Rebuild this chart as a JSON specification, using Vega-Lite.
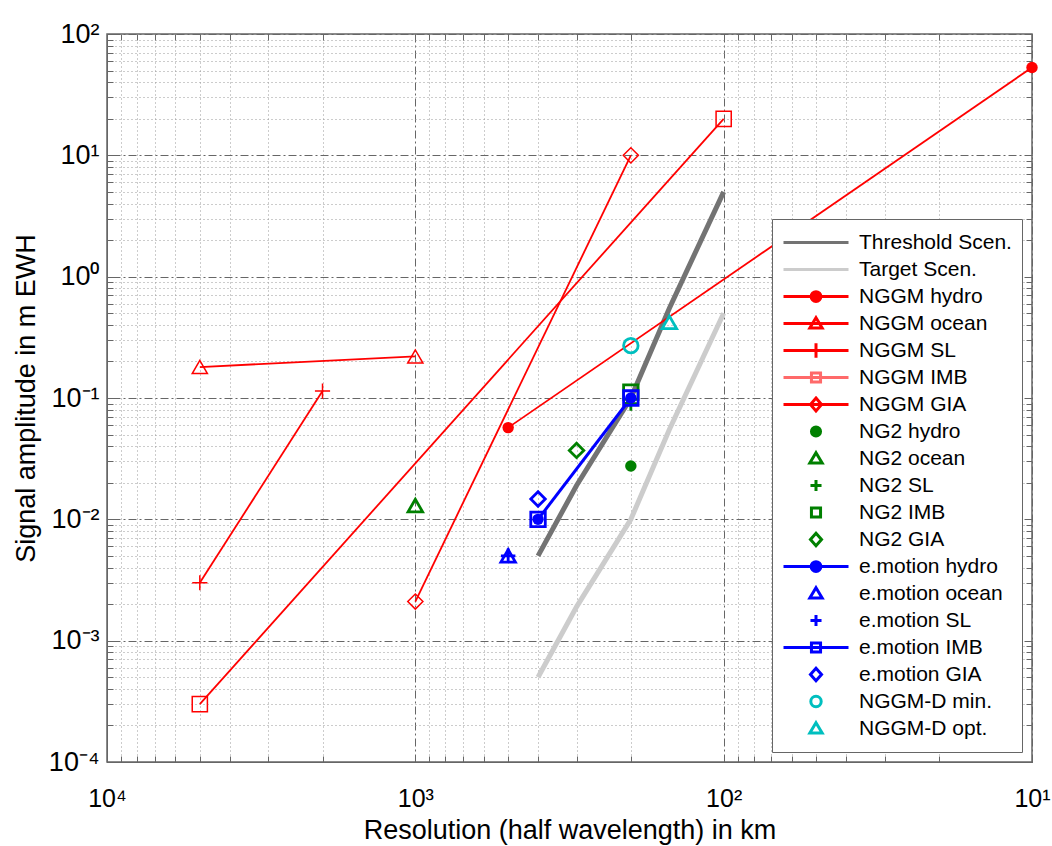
{
  "$schema": "https://vega.github.io/schema/vega-lite/v6.json",
  "width": 925,
  "height": 728,
  "autosize": {"type": "none"},
  "padding": {"left": 107, "top": 34, "right": 20, "bottom": 84},
  "background": "white",
  "config": {
    "view": {"stroke": "#666", "strokeWidth": 1.5},
    "font": "Liberation Sans"
  },
  "data": {"values": [
    {"series": "Threshold Scen.", "res": 400, "amp": 0.005},
    {"series": "Threshold Scen.", "res": 300, "amp": 0.019},
    {"series": "Threshold Scen.", "res": 200, "amp": 0.1},
    {"series": "Threshold Scen.", "res": 150, "amp": 0.55},
    {"series": "Threshold Scen.", "res": 100, "amp": 5},
    {"series": "Target Scen.", "res": 400, "amp": 0.0005},
    {"series": "Target Scen.", "res": 300, "amp": 0.0019},
    {"series": "Target Scen.", "res": 200, "amp": 0.01},
    {"series": "Target Scen.", "res": 150, "amp": 0.055},
    {"series": "Target Scen.", "res": 100, "amp": 0.5},
    {"series": "NGGM hydro", "res": 500, "amp": 0.057},
    {"series": "NGGM hydro", "res": 10, "amp": 53},
    {"series": "NGGM ocean", "res": 5000, "amp": 0.18},
    {"series": "NGGM ocean", "res": 1000, "amp": 0.22},
    {"series": "NGGM SL", "res": 5000, "amp": 0.003},
    {"series": "NGGM SL", "res": 2000, "amp": 0.114},
    {"series": "NGGM IMB", "res": 5000, "amp": 0.0003},
    {"series": "NGGM IMB", "res": 100, "amp": 20},
    {"series": "NGGM GIA", "res": 1000, "amp": 0.0021},
    {"series": "NGGM GIA", "res": 200, "amp": 10},
    {"series": "NG2 hydro", "res": 200, "amp": 0.0275},
    {"series": "NG2 ocean", "res": 1000, "amp": 0.013},
    {"series": "NG2 SL", "res": 200, "amp": 0.09},
    {"series": "NG2 IMB", "res": 200, "amp": 0.112},
    {"series": "NG2 GIA", "res": 300, "amp": 0.037},
    {"series": "e.motion hydro", "res": 400, "amp": 0.01},
    {"series": "e.motion hydro", "res": 200, "amp": 0.1},
    {"series": "e.motion ocean", "res": 500, "amp": 0.005},
    {"series": "e.motion SL", "res": 500, "amp": 0.005},
    {"series": "e.motion IMB", "res": 400, "amp": 0.01},
    {"series": "e.motion IMB", "res": 200, "amp": 0.1},
    {"series": "e.motion GIA", "res": 400, "amp": 0.0147},
    {"series": "NGGM-D min.", "res": 200, "amp": 0.27},
    {"series": "NGGM-D opt.", "res": 150, "amp": 0.42}
  ]},
  "layer": [
    {
      "transform": [{"filter": {"field": "series", "oneOf": ["Threshold Scen.", "Target Scen."]}}],
      "mark": {"type": "line", "strokeWidth": 5, "strokeCap": "butt"},
      "encoding": {
        "x": {"field": "res", "type": "quantitative", "title": "Resolution (half wavelength) in km",
          "scale": {"type": "log", "domain": [10, 10000], "reverse": true, "nice": false},
          "axis": {
            "values": [10,20,30,40,50,60,70,80,90,100,200,300,400,500,600,700,800,900,1000,2000,3000,4000,5000,6000,7000,8000,9000,10000],
            "labelExpr": "datum.value == 10 ? '10¹' : datum.value == 100 ? '10²' : datum.value == 1000 ? '10³' : datum.value == 10000 ? '10⁴' : ''",
            "labelFontSize": 25, "labelColor": "#000", "labelPadding": 30, "labelFlush": false, "labelOverlap": false,
            "grid": true,
            "gridDash": {"condition": {"test": "abs(log(datum.value)/LN10 - round(log(datum.value)/LN10)) < 0.01", "value": [8, 3, 2, 3]}, "value": [1, 3]},
            "gridColor": {"condition": {"test": "abs(log(datum.value)/LN10 - round(log(datum.value)/LN10)) < 0.01", "value": "#666"}, "value": "#999"},
            "gridWidth": 1,
            "tickSize": -6, "tickColor": "#666", "domainColor": "#666",
            "titleFontSize": 27, "titleFontWeight": "normal", "titleColor": "#000", "titlePadding": 6
          }
        },
        "y": {"field": "amp", "type": "quantitative", "title": "Signal amplitude in m EWH",
          "scale": {"type": "log", "domain": [0.0001, 100], "nice": false},
          "axis": {
            "values": [0.0001,0.0002,0.0003,0.0004,0.0005,0.0006,0.0007,0.0008,0.0009,0.001,0.002,0.003,0.004,0.005,0.006,0.007,0.008,0.009,0.01,0.02,0.03,0.04,0.05,0.06,0.07,0.08,0.09,0.1,0.2,0.3,0.4,0.5,0.6,0.7,0.8,0.9,1,2,3,4,5,6,7,8,9,10,20,30,40,50,60,70,80,90,100],
            "labelExpr": "datum.value == 0.0001 ? '10⁻⁴' : datum.value == 0.001 ? '10⁻³' : datum.value == 0.01 ? '10⁻²' : datum.value == 0.1 ? '10⁻¹' : datum.value == 1 ? '10⁰' : datum.value == 10 ? '10¹' : datum.value == 100 ? '10²' : ''",
            "labelFontSize": 27, "labelColor": "#000", "labelPadding": 14, "labelFlush": false, "labelOverlap": false,
            "grid": true,
            "gridDash": {"condition": {"test": "abs(log(datum.value)/LN10 - round(log(datum.value)/LN10)) < 0.01", "value": [8, 3, 2, 3]}, "value": [1, 3]},
            "gridColor": {"condition": {"test": "abs(log(datum.value)/LN10 - round(log(datum.value)/LN10)) < 0.01", "value": "#666"}, "value": "#999"},
            "gridWidth": 1,
            "tickSize": -6, "tickColor": "#666", "domainColor": "#666",
            "titleFontSize": 27, "titleFontWeight": "normal", "titleColor": "#000", "titlePadding": 8
          }
        },
        "color": {"field": "series", "type": "nominal", "legend": null,
          "scale": {"domain": ["Threshold Scen.","Target Scen.","NGGM hydro","NGGM ocean","NGGM SL","NGGM IMB","NGGM GIA","NG2 hydro","NG2 ocean","NG2 SL","NG2 IMB","NG2 GIA","e.motion hydro","e.motion ocean","e.motion SL","e.motion IMB","e.motion GIA","NGGM-D min.","NGGM-D opt."],
                    "range": ["#737373","#cccccc","#ff0000","#ff0000","#ff0000","#ff0000","#ff0000","#008000","#008000","#008000","#008000","#008000","#0000ff","#0000ff","#0000ff","#0000ff","#0000ff","#00bfbf","#00bfbf"]}}
      }
    },
    {
      "transform": [{"filter": {"field": "series", "oneOf": ["NGGM hydro","NGGM ocean","NGGM SL","NGGM IMB","NGGM GIA"]}}],
      "mark": {"type": "line", "strokeWidth": 1.8},
      "encoding": {
        "x": {"field": "res", "type": "quantitative", "scale": {"type": "log", "domain": [10, 10000], "reverse": true, "nice": false}, "axis": null},
        "y": {"field": "amp", "type": "quantitative", "scale": {"type": "log", "domain": [0.0001, 100], "nice": false}, "axis": null},
        "color": {"field": "series", "type": "nominal", "legend": null,
          "scale": {"domain": ["Threshold Scen.","Target Scen.","NGGM hydro","NGGM ocean","NGGM SL","NGGM IMB","NGGM GIA","NG2 hydro","NG2 ocean","NG2 SL","NG2 IMB","NG2 GIA","e.motion hydro","e.motion ocean","e.motion SL","e.motion IMB","e.motion GIA","NGGM-D min.","NGGM-D opt."],
                    "range": ["#737373","#cccccc","#ff0000","#ff0000","#ff0000","#ff0000","#ff0000","#008000","#008000","#008000","#008000","#008000","#0000ff","#0000ff","#0000ff","#0000ff","#0000ff","#00bfbf","#00bfbf"]}}
      }
    },
    {
      "transform": [{"filter": {"field": "series", "oneOf": ["e.motion IMB"]}}],
      "mark": {"type": "line", "strokeWidth": 3},
      "encoding": {
        "x": {"field": "res", "type": "quantitative", "scale": {"type": "log", "domain": [10, 10000], "reverse": true, "nice": false}, "axis": null},
        "y": {"field": "amp", "type": "quantitative", "scale": {"type": "log", "domain": [0.0001, 100], "nice": false}, "axis": null},
        "color": {"field": "series", "type": "nominal", "legend": null,
          "scale": {"domain": ["Threshold Scen.","Target Scen.","NGGM hydro","NGGM ocean","NGGM SL","NGGM IMB","NGGM GIA","NG2 hydro","NG2 ocean","NG2 SL","NG2 IMB","NG2 GIA","e.motion hydro","e.motion ocean","e.motion SL","e.motion IMB","e.motion GIA","NGGM-D min.","NGGM-D opt."],
                    "range": ["#737373","#cccccc","#ff0000","#ff0000","#ff0000","#ff0000","#ff0000","#008000","#008000","#008000","#008000","#008000","#0000ff","#0000ff","#0000ff","#0000ff","#0000ff","#00bfbf","#00bfbf"]}}
      }
    },
    {
      "transform": [{"filter": {"field": "series", "oneOf": ["NGGM ocean","NGGM SL","NGGM IMB","NGGM GIA"]}}],
      "mark": {"type": "point", "filled": false, "opacity": 1, "strokeWidth": 1.5, "size": 230},
      "encoding": {
        "x": {"field": "res", "type": "quantitative", "scale": {"type": "log", "domain": [10, 10000], "reverse": true, "nice": false}, "axis": null},
        "y": {"field": "amp", "type": "quantitative", "scale": {"type": "log", "domain": [0.0001, 100], "nice": false}, "axis": null},
        "color": {"field": "series", "type": "nominal", "legend": null,
          "scale": {"domain": ["Threshold Scen.","Target Scen.","NGGM hydro","NGGM ocean","NGGM SL","NGGM IMB","NGGM GIA","NG2 hydro","NG2 ocean","NG2 SL","NG2 IMB","NG2 GIA","e.motion hydro","e.motion ocean","e.motion SL","e.motion IMB","e.motion GIA","NGGM-D min.","NGGM-D opt."],
                    "range": ["#737373","#cccccc","#ff0000","#ff0000","#ff0000","#ff0000","#ff0000","#008000","#008000","#008000","#008000","#008000","#0000ff","#0000ff","#0000ff","#0000ff","#0000ff","#00bfbf","#00bfbf"]}},
        "shape": {"field": "series", "type": "nominal", "legend": null,
          "scale": {"domain": ["Threshold Scen.","Target Scen.","NGGM hydro","NGGM ocean","NGGM SL","NGGM IMB","NGGM GIA","NG2 hydro","NG2 ocean","NG2 SL","NG2 IMB","NG2 GIA","e.motion hydro","e.motion ocean","e.motion SL","e.motion IMB","e.motion GIA","NGGM-D min.","NGGM-D opt."],
                    "range": ["circle","circle","circle","triangle-up","M-1,0L1,0M0,-1L0,1","square","diamond","circle","triangle-up","M-1,0L1,0M0,-1L0,1","square","diamond","circle","triangle-up","M-1,0L1,0M0,-1L0,1","square","diamond","circle","triangle-up"]}}
      }
    },
    {
      "transform": [{"filter": {"field": "series", "oneOf": ["NG2 ocean","NG2 SL","NG2 IMB","NG2 GIA","e.motion ocean","e.motion SL","e.motion IMB","e.motion GIA","NGGM-D min.","NGGM-D opt."]}}],
      "mark": {"type": "point", "filled": false, "opacity": 1, "strokeWidth": 2.8, "size": 210},
      "encoding": {
        "x": {"field": "res", "type": "quantitative", "scale": {"type": "log", "domain": [10, 10000], "reverse": true, "nice": false}, "axis": null},
        "y": {"field": "amp", "type": "quantitative", "scale": {"type": "log", "domain": [0.0001, 100], "nice": false}, "axis": null},
        "color": {"field": "series", "type": "nominal", "legend": null,
          "scale": {"domain": ["Threshold Scen.","Target Scen.","NGGM hydro","NGGM ocean","NGGM SL","NGGM IMB","NGGM GIA","NG2 hydro","NG2 ocean","NG2 SL","NG2 IMB","NG2 GIA","e.motion hydro","e.motion ocean","e.motion SL","e.motion IMB","e.motion GIA","NGGM-D min.","NGGM-D opt."],
                    "range": ["#737373","#cccccc","#ff0000","#ff0000","#ff0000","#ff0000","#ff0000","#008000","#008000","#008000","#008000","#008000","#0000ff","#0000ff","#0000ff","#0000ff","#0000ff","#00bfbf","#00bfbf"]}},
        "shape": {"field": "series", "type": "nominal", "legend": null,
          "scale": {"domain": ["Threshold Scen.","Target Scen.","NGGM hydro","NGGM ocean","NGGM SL","NGGM IMB","NGGM GIA","NG2 hydro","NG2 ocean","NG2 SL","NG2 IMB","NG2 GIA","e.motion hydro","e.motion ocean","e.motion SL","e.motion IMB","e.motion GIA","NGGM-D min.","NGGM-D opt."],
                    "range": ["circle","circle","circle","triangle-up","M-1,0L1,0M0,-1L0,1","square","diamond","circle","triangle-up","M-1,0L1,0M0,-1L0,1","square","diamond","circle","triangle-up","M-1,0L1,0M0,-1L0,1","square","diamond","circle","triangle-up"]}}
      }
    },
    {
      "transform": [{"filter": {"field": "series", "oneOf": ["NGGM hydro","NG2 hydro","e.motion hydro"]}}],
      "mark": {"type": "point", "filled": true, "opacity": 1, "shape": "circle", "size": 130},
      "encoding": {
        "x": {"field": "res", "type": "quantitative", "scale": {"type": "log", "domain": [10, 10000], "reverse": true, "nice": false}, "axis": null},
        "y": {"field": "amp", "type": "quantitative", "scale": {"type": "log", "domain": [0.0001, 100], "nice": false}, "axis": null},
        "color": {"field": "series", "type": "nominal", "legend": null,
          "scale": {"domain": ["Threshold Scen.","Target Scen.","NGGM hydro","NGGM ocean","NGGM SL","NGGM IMB","NGGM GIA","NG2 hydro","NG2 ocean","NG2 SL","NG2 IMB","NG2 GIA","e.motion hydro","e.motion ocean","e.motion SL","e.motion IMB","e.motion GIA","NGGM-D min.","NGGM-D opt."],
                    "range": ["#737373","#cccccc","#ff0000","#ff0000","#ff0000","#ff0000","#ff0000","#008000","#008000","#008000","#008000","#008000","#0000ff","#0000ff","#0000ff","#0000ff","#0000ff","#00bfbf","#00bfbf"]}}
      }
    },
    {
      "transform": [{"filter": "datum.res < 0"}],
      "mark": {"type": "point", "filled": false, "opacity": 1},
      "encoding": {
        "x": {"field": "res", "type": "quantitative", "scale": {"type": "log", "domain": [10, 10000], "reverse": true, "nice": false},
          "axis": {"orient": "top", "title": null, "labels": false, "grid": false, "domain": false, "tickSize": -6, "tickColor": "#666",
            "values": [10,20,30,40,50,60,70,80,90,100,200,300,400,500,600,700,800,900,1000,2000,3000,4000,5000,6000,7000,8000,9000,10000]}},
        "y": {"field": "amp", "type": "quantitative", "scale": {"type": "log", "domain": [0.0001, 100], "nice": false},
          "axis": {"orient": "right", "title": null, "labels": false, "grid": false, "domain": false, "tickSize": -6, "tickColor": "#666",
            "values": [0.0001,0.0002,0.0003,0.0004,0.0005,0.0006,0.0007,0.0008,0.0009,0.001,0.002,0.003,0.004,0.005,0.006,0.007,0.008,0.009,0.01,0.02,0.03,0.04,0.05,0.06,0.07,0.08,0.09,0.1,0.2,0.3,0.4,0.5,0.6,0.7,0.8,0.9,1,2,3,4,5,6,7,8,9,10,20,30,40,50,60,70,80,90,100]}},
        "shape": {"field": "series", "type": "nominal",
          "scale": {"domain": ["Threshold Scen.","Target Scen.","NGGM hydro","NGGM ocean","NGGM SL","NGGM IMB","NGGM GIA","NG2 hydro","NG2 ocean","NG2 SL","NG2 IMB","NG2 GIA","e.motion hydro","e.motion ocean","e.motion SL","e.motion IMB","e.motion GIA","NGGM-D min.","NGGM-D opt."],
                    "range": [
                      "M-1,0L1,0",
                      "M-1,0L1,0",
                      "M-1,0L1,0M-0.15,0A0.15,0.15,0,1,1,0.15,0A0.15,0.15,0,1,1,-0.15,0Z",
                      "M-1,0L1,0M0,-0.18L0.19,0.14L-0.19,0.14Z",
                      "M-1,0L1,0M0,-0.22L0,0.22",
                      "M-1,0L1,0M-0.14,-0.14L0.14,-0.14L0.14,0.14L-0.14,0.14Z",
                      "M-1,0L1,0M0,-0.2L0.17,0L0,0.2L-0.17,0Z",
                      "M-0.14,0A0.14,0.14,0,1,1,0.14,0A0.14,0.14,0,1,1,-0.14,0Z",
                      "M0,-0.18L0.19,0.14L-0.19,0.14Z",
                      "M-0.17,0L0.17,0M0,-0.17L0,0.17",
                      "M-0.14,-0.14L0.14,-0.14L0.14,0.14L-0.14,0.14Z",
                      "M0,-0.19L0.17,0L0,0.19L-0.17,0Z",
                      "M-1,0L1,0M-0.15,0A0.15,0.15,0,1,1,0.15,0A0.15,0.15,0,1,1,-0.15,0Z",
                      "M0,-0.18L0.19,0.14L-0.19,0.14Z",
                      "M-0.17,0L0.17,0M0,-0.17L0,0.17",
                      "M-1,0L1,0M-0.14,-0.14L0.14,-0.14L0.14,0.14L-0.14,0.14Z",
                      "M0,-0.19L0.17,0L0,0.19L-0.17,0Z",
                      "M-0.16,0A0.16,0.16,0,1,1,0.16,0A0.16,0.16,0,1,1,-0.16,0Z",
                      "M0,-0.18L0.19,0.14L-0.19,0.14Z"
                    ]},
          "legend": {"title": null, "orient": "bottom-right", "offset": 10, "symbolSize": 4225, "clipHeight": 27, "rowPadding": 0, "padding": 10,
            "labelFont": "Liberation Sans", "labelFontSize": 21, "labelColor": "#000", "labelOffset": 9, "labelLimit": 300,
            "strokeColor": "#666", "fillColor": "white", "symbolStrokeWidth": 3, "symbolOffset": 0,
            "encode": {"symbols": {"update": {"strokeWidth": {"signal": "datum.value == 'Threshold Scen.' || datum.value == 'Target Scen.' ? 5 : (indexof(['NGGM hydro','NGGM ocean','NGGM SL','NGGM IMB','NGGM GIA'], datum.value) >= 0 ? 2 : 3)"}}}}}
        },
        "fill": {"field": "series", "type": "nominal",
          "scale": {"domain": ["Threshold Scen.","Target Scen.","NGGM hydro","NGGM ocean","NGGM SL","NGGM IMB","NGGM GIA","NG2 hydro","NG2 ocean","NG2 SL","NG2 IMB","NG2 GIA","e.motion hydro","e.motion ocean","e.motion SL","e.motion IMB","e.motion GIA","NGGM-D min.","NGGM-D opt."],
                    "range": ["transparent","transparent","#ff0000","transparent","transparent","transparent","transparent","#008000","transparent","transparent","transparent","transparent","#0000ff","transparent","transparent","transparent","transparent","transparent","transparent"]},
          "legend": {"title": null, "orient": "bottom-right", "offset": 10, "symbolSize": 4225, "clipHeight": 27, "rowPadding": 0, "padding": 10,
            "labelFont": "Liberation Sans", "labelFontSize": 21, "labelColor": "#000", "labelOffset": 9, "labelLimit": 300,
            "strokeColor": "#666", "fillColor": "white", "symbolStrokeWidth": 3, "symbolOffset": 0}
        },
        "stroke": {"field": "series", "type": "nominal",
          "scale": {"domain": ["Threshold Scen.","Target Scen.","NGGM hydro","NGGM ocean","NGGM SL","NGGM IMB","NGGM GIA","NG2 hydro","NG2 ocean","NG2 SL","NG2 IMB","NG2 GIA","e.motion hydro","e.motion ocean","e.motion SL","e.motion IMB","e.motion GIA","NGGM-D min.","NGGM-D opt."],
                    "range": ["#737373","#cccccc","#ff0000","#ff0000","#ff0000","#ff6a6a","#ff0000","#008000","#008000","#008000","#008000","#008000","#0000ff","#0000ff","#0000ff","#0000ff","#0000ff","#00bfbf","#00bfbf"]},
          "legend": {"title": null, "orient": "bottom-right", "offset": 10, "symbolSize": 4225, "clipHeight": 27, "rowPadding": 0, "padding": 10,
            "labelFont": "Liberation Sans", "labelFontSize": 21, "labelColor": "#000", "labelOffset": 9, "labelLimit": 300,
            "strokeColor": "#666", "fillColor": "white", "symbolStrokeWidth": 3, "symbolOffset": 0}
        }
      }
    }
  ],
  "resolve": {
    "scale": {"shape": "independent", "fill": "independent", "stroke": "independent"},
    "axis": {"x": "independent", "y": "independent"}
  }
}
